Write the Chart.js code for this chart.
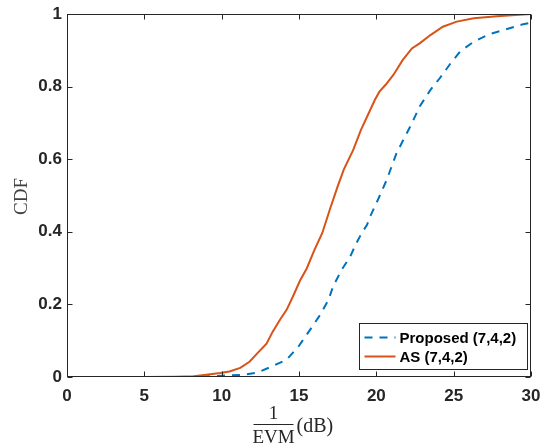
<!DOCTYPE html>
<html>
<head>
<meta charset="utf-8">
<script src="https://cdn.jsdelivr.net/npm/chart.js@4.4.1/dist/chart.umd.min.js"></script>
<style>
  html, body { margin: 0; padding: 0; background: #ffffff; }
  #wrap { width: 544px; height: 444px; }
</style>
</head>
<body>
<div id="wrap"><canvas id="cdf" width="544" height="444"></canvas></div>
<script>
// Series labels
const seriesNames = ['Proposed (7,4,2)', 'AS (7,4,2)'];

// Proposed (7,4,2): 1/EVM in dB and empirical CDF
const proposedDb  = [0, 8, 9.2, 10.3, 11.4, 12.3, 13.3, 14.2, 14.95, 15.7, 16.35, 16.9, 17.2, 17.75, 18.3, 18.7, 19.05, 19.4, 19.6, 20.1, 20.67, 21.3, 21.96, 22.3, 22.8, 23.5, 24.1, 24.8, 25.4, 26.3, 27.35, 28.4, 29.5, 30];
const proposedCdf = [0, 0, 0.002, 0.004, 0.006, 0.012, 0.030, 0.048, 0.083, 0.129, 0.170, 0.212, 0.249, 0.295, 0.331, 0.368, 0.396, 0.419, 0.442, 0.488, 0.543, 0.616, 0.671, 0.699, 0.745, 0.791, 0.823, 0.864, 0.896, 0.924, 0.945, 0.958, 0.972, 0.976];

// AS (7,4,2): 1/EVM in dB and empirical CDF
const asDb  = [0, 5, 7, 8.2, 9.0, 9.9, 10.5, 11.2, 11.8, 12.3, 12.9, 13.3, 13.8, 14.2, 14.6, 15.06, 15.5, 16.0, 16.5, 17.0, 17.5, 17.9, 18.5, 19.0, 19.4, 19.9, 20.2, 20.6, 21.1, 21.7, 22.3, 22.8, 23.5, 24.3, 25.2, 26.3, 27.8, 29, 30];
const asCdf = [0, 0, 0.001, 0.002, 0.006, 0.011, 0.015, 0.025, 0.042, 0.065, 0.092, 0.125, 0.160, 0.185, 0.221, 0.265, 0.299, 0.350, 0.396, 0.462, 0.525, 0.572, 0.625, 0.680, 0.717, 0.763, 0.786, 0.805, 0.832, 0.873, 0.905, 0.919, 0.942, 0.965, 0.979, 0.988, 0.994, 0.997, 1.0];

// Tick labels
const xTickLabels = ['0', '5', '10', '15', '20', '25', '30'];
const yTickLabels = ['0', '0.2', '0.4', '0.6', '0.8', '1'];

const BLUE = '#0072BD';
const ORANGE = '#D95319';
const INK = '#262626';
const tickFont = { family: '"Liberation Sans", Arial, sans-serif', size: 17, weight: 'bold' };

const toPoints = (xs, ys) => xs.map((v, i) => ({ x: v, y: ys[i] }));

// Box, inward tick marks, axis titles and the legend
const decorations = {
  id: 'decorations',
  afterDatasetsDraw(chart) {
    const { ctx, chartArea: a, scales: { x, y } } = chart;
    const L = Math.round(a.left) + 0.5, R = Math.round(a.right) - 0.5;
    const T = Math.round(a.top) + 0.5, B = Math.round(a.bottom) - 0.5;
    ctx.save();
    ctx.strokeStyle = INK;
    ctx.lineWidth = 1;
    ctx.strokeRect(L, T, R - L, B - T);
    ctx.beginPath();
    x.ticks.forEach(t => {
      const px = Math.round(x.getPixelForValue(t.value)) + 0.5;
      ctx.moveTo(px, B); ctx.lineTo(px, B - 5);
      ctx.moveTo(px, T); ctx.lineTo(px, T + 5);
    });
    y.ticks.forEach(t => {
      const py = Math.round(y.getPixelForValue(t.value)) + 0.5;
      ctx.moveTo(L, py); ctx.lineTo(L + 5, py);
      ctx.moveTo(R, py); ctx.lineTo(R - 5, py);
    });
    ctx.stroke();

    // Legend box, lower right
    const lx = Math.round(a.right) - 171.5, ly = Math.round(a.bottom) - 53.5;
    const lw = 168, lh = 46;
    ctx.fillStyle = '#ffffff';
    ctx.fillRect(lx, ly, lw, lh);
    ctx.strokeStyle = INK;
    ctx.lineWidth = 1;
    ctx.strokeRect(lx, ly, lw, lh);
    const rows = [
      { label: seriesNames[0], color: BLUE, dash: [8, 7], yy: ly + 14 },
      { label: seriesNames[1], color: ORANGE, dash: [], yy: ly + 33 }
    ];
    ctx.font = 'bold 15px "Liberation Sans", Arial, sans-serif';
    ctx.textBaseline = 'middle';
    ctx.textAlign = 'left';
    rows.forEach(r => {
      ctx.strokeStyle = r.color;
      ctx.lineWidth = 2;
      ctx.setLineDash(r.dash);
      ctx.beginPath();
      ctx.moveTo(lx + 5, r.yy);
      ctx.lineTo(lx + 36, r.yy);
      ctx.stroke();
      ctx.setLineDash([]);
      ctx.fillStyle = '#000000';
      ctx.fillText(r.label, lx + 40, r.yy + 1);
    });

    // Y title
    const midY = (a.top + a.bottom) / 2;
    ctx.fillStyle = '#404040';
    ctx.font = '19px "Liberation Serif", "Times New Roman", serif';
    ctx.translate(22, midY + 1);
    ctx.rotate(-Math.PI / 2);
    ctx.textAlign = 'center';
    ctx.textBaseline = 'middle';
    ctx.fillText('CDF', 0, 0);
    ctx.setTransform(1, 0, 0, 1, 0, 0);

    // X title: 1/EVM (dB) as a stacked fraction
    const fx = 273.5;
    ctx.fillStyle = '#262626';
    ctx.font = '19px "Liberation Serif", "Times New Roman", serif';
    ctx.textAlign = 'center';
    ctx.textBaseline = 'alphabetic';
    ctx.fillText('1', fx, 419);
    ctx.fillText('EVM', fx, 443);
    ctx.strokeStyle = '#262626';
    ctx.lineWidth = 1;
    ctx.beginPath();
    ctx.moveTo(fx - 20, 424.5);
    ctx.lineTo(fx + 20, 424.5);
    ctx.stroke();
    ctx.textAlign = 'left';
    ctx.font = '20px "Liberation Serif", "Times New Roman", serif';
    ctx.fillText('(dB)', fx + 23, 432);
    ctx.restore();
  }
};

new Chart(document.getElementById('cdf'), {
  type: 'line',
  data: {
    datasets: [
      {
        label: seriesNames[0],
        data: toPoints(proposedDb, proposedCdf),
        borderColor: BLUE,
        borderWidth: 2,
        borderDash: [8, 7],
        pointRadius: 0,
        tension: 0,
        fill: false,
        order: 1
      },
      {
        label: seriesNames[1],
        data: toPoints(asDb, asCdf),
        borderColor: ORANGE,
        borderWidth: 2,
        pointRadius: 0,
        tension: 0,
        fill: false,
        order: 0
      }
    ]
  },
  options: {
    responsive: false,
    animation: false,
    layout: { padding: { top: 14, right: 13, left: 0, bottom: 0 } },
    plugins: { legend: { display: false }, tooltip: { enabled: false } },
    scales: {
      x: {
        type: 'linear',
        min: 0, max: 30,
        grid: { display: false, drawTicks: false },
        border: { display: false },
        ticks: {
          stepSize: 5,
          padding: 9,
          color: INK,
          font: tickFont,
          maxRotation: 0,
          callback: (v, i) => xTickLabels[i]
        },
        afterFit: s => { s.height = 67; s.paddingLeft = 0; s.paddingRight = 0; }
      },
      y: {
        type: 'linear',
        min: 0, max: 1,
        grid: { display: false, drawTicks: false },
        border: { display: false },
        ticks: {
          stepSize: 0.2,
          padding: 5,
          color: INK,
          font: tickFont,
          callback: (v, i) => yTickLabels[i]
        },
        afterFit: s => { s.width = 67; s.paddingTop = 0; s.paddingBottom = 0; }
      }
    }
  },
  plugins: [decorations]
});
</script>
</body>
</html>
